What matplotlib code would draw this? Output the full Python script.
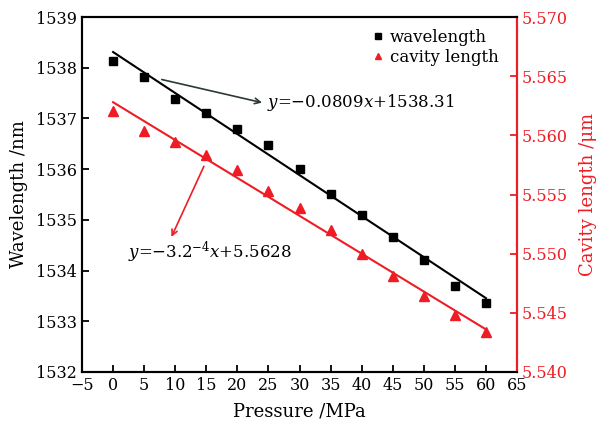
import numpy as np
import matplotlib
matplotlib.use('Agg')
import matplotlib.pyplot as plt

plt.rcParams['font.family'] = 'DejaVu Serif'
plt.rcParams['mathtext.fontset'] = 'dejavuserif'

# pressure sweep and measured values
pressure = [0, 5, 10, 15, 20, 25, 30, 35, 40, 45, 50, 55, 60]
wavelength = [1538.14, 1537.82, 1537.39, 1537.11, 1536.79, 1536.48, 1536.00,
              1535.51, 1535.09, 1534.66, 1534.21, 1533.69, 1533.36]
cavity = [5.5621, 5.5604, 5.5594, 5.5583, 5.5571, 5.5553, 5.5539,
          5.5520, 5.5500, 5.5481, 5.5464, 5.5448, 5.5434]

# linear fits
wl_slope, wl_icpt = -0.0809, 1538.31
cav_slope, cav_icpt = -3.2e-4, 5.5628

x_ticks = list(range(-5, 70, 5))
wl_ticks = list(range(1532, 1540))
cav_ticks = [5.540, 5.545, 5.550, 5.555, 5.560, 5.565, 5.570]

red = '#ee1c24'

fig = plt.figure(figsize=(6.04, 4.26), dpi=100)
ax = fig.add_axes([0.1358, 0.1268, 0.7202, 0.8332])
ax2 = ax.twinx()

xfit = np.array([0, 60])
ax.plot(xfit, wl_slope * xfit + wl_icpt, color='black', lw=1.5, zorder=2)
l1, = ax.plot(pressure, wavelength, 's', color='black', ms=5.5, zorder=3,
              label='wavelength')
ax2.plot(xfit, cav_slope * xfit + cav_icpt, color=red, lw=1.5, zorder=2)
l2, = ax2.plot(pressure, cavity, '^', color=red, ms=6.5, zorder=3,
               label='cavity length')

ax.set_xlim(-5, 65)
ax.set_ylim(1532, 1539)
ax2.set_ylim(5.540, 5.570)
ax.set_xticks(x_ticks)
ax.set_yticks(wl_ticks)
ax2.set_yticks(cav_ticks)
ax2.set_yticklabels(['%.3f' % v for v in cav_ticks])

ax.tick_params(direction='in', labelsize=11.5, width=1.3, length=5)
ax2.tick_params(direction='in', labelsize=11.5, width=1.3, length=5,
                colors=red)
for s in ax.spines.values():
    s.set_linewidth(1.5)
for s in ax2.spines.values():
    s.set_linewidth(1.5)
ax2.spines['right'].set_color(red)

ax.set_xlabel('Pressure /MPa', fontsize=13, labelpad=6)
ax.set_ylabel('Wavelength /nm', fontsize=13, labelpad=6)
ax2.set_ylabel('Cavity length /μm', fontsize=13, color=red, labelpad=8)

ax.annotate('', xy=(24.4, 1537.30), xytext=(7.4, 1537.78),
            arrowprops=dict(arrowstyle='->', color='#2b3a35', lw=1.2))
ax.text(24.8, 1537.32, r'$y$=−0.0809$x$+1538.31', fontsize=12,
        va='center', ha='left')

ax2.annotate('', xy=(9.2, 5.5512), xytext=(14.8, 5.5576),
             arrowprops=dict(arrowstyle='->', color=red, lw=1.2))
ax2.text(2.4, 5.5501, r'$y$=−3.2$^{-4}$$x$+5.5628', fontsize=12,
         va='center', ha='left')

ax.legend(handles=[l1, l2], loc='upper right', frameon=False, fontsize=12,
          handlelength=0.8, handletextpad=0.3, borderaxespad=0.3,
          labelspacing=0.2, markerscale=0.7, bbox_to_anchor=(0.985, 1.0))

fig.savefig('out.png', dpi=100)
